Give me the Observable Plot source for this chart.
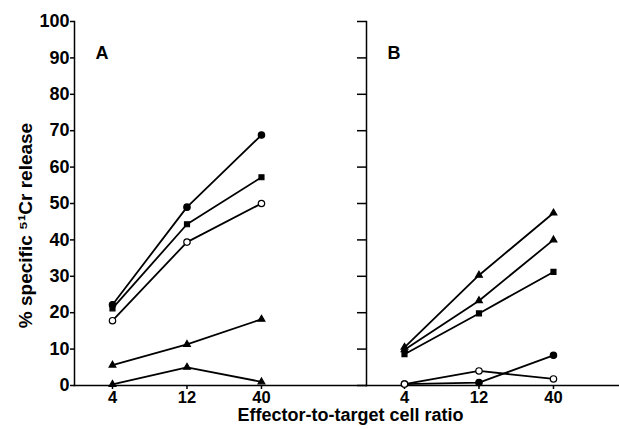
<!DOCTYPE html>
<html>
<head>
<meta charset="utf-8">
<script src="https://cdn.jsdelivr.net/npm/d3@7"></script>
<script src="https://cdn.jsdelivr.net/npm/@observablehq/plot@0.6"></script>
<style>
  html, body { margin: 0; padding: 0; background: #fff; overflow: hidden; }
  svg { font-family: "Liberation Sans", Arial, sans-serif; max-width: none !important; display: block; }
</style>
</head>
<body>
<div id="chart"></div>
<script>
// Effector-to-target ratios (categorical, equally spaced)
const ratios = [4, 12, 40];
const panels = ["A", "B"];
const yTicks = [0, 10, 20, 30, 40, 50, 60, 70, 80, 90, 100];
const yLabel = "% specific \u2075\u00B9Cr release";
const xLabel = "Effector-to-target cell ratio";

// Panel A series
const a1 = [22.2, 49.0, 68.8];  // filled circle
const a2 = [21.2, 44.3, 57.2];  // filled square
const a3 = [17.8, 39.4, 50.0];  // open circle
const a4 = [5.6, 11.3, 18.2];   // filled triangle
const a5 = [0.3, 5.0, 1.0];     // filled triangle
// Panel B series
const b1 = [10.5, 30.3, 47.4];  // filled triangle
const b2 = [9.8, 23.3, 40.0];   // filled triangle
const b3 = [8.6, 19.8, 31.2];   // filled square
const b4 = [0.4, 0.8, 8.3];     // filled circle
const b5 = [0.4, 4.0, 1.8];     // open circle

const seriesDefs = [
  {panel: "A", id: "a1", values: a1, shape: "circle", open: false},
  {panel: "A", id: "a2", values: a2, shape: "square", open: false},
  {panel: "A", id: "a3", values: a3, shape: "circle", open: true},
  {panel: "A", id: "a4", values: a4, shape: "triangle", open: false},
  {panel: "A", id: "a5", values: a5, shape: "triangle", open: false},
  {panel: "B", id: "b1", values: b1, shape: "triangle", open: false},
  {panel: "B", id: "b2", values: b2, shape: "triangle", open: false},
  {panel: "B", id: "b3", values: b3, shape: "square", open: false},
  {panel: "B", id: "b4", values: b4, shape: "circle", open: false},
  {panel: "B", id: "b5", values: b5, shape: "circle", open: true}
];

const rows = seriesDefs.flatMap(s => s.values.map((v, i) => ({
  panel: s.panel, series: s.id, idx: i, ratio: ratios[i], value: v,
  shape: s.shape, fillColor: s.open ? "white" : "black"
})));

const dotsOf = (shape, r) => Plot.dot(rows.filter(d => d.shape === shape), {
  x: "idx", y: "value", fx: "panel", symbol: "shape",
  fill: "fillColor", stroke: "black", strokeWidth: 1.2, r
});

const chart = Plot.plot({
  width: 658,
  height: 429,
  marginLeft: 74,
  marginRight: 0,
  marginTop: 21,
  marginBottom: 44,
  fx: {domain: panels, padding: 0, axis: null},
  x: {domain: [-0.51, 3.41], label: null},
  y: {domain: [0, 100], label: null},
  symbol: {domain: ["circle", "square", "triangle"], range: ["circle", "square", "triangle"]},
  style: {fontFamily: "Liberation Sans, Arial, sans-serif", color: "black", background: "white"},
  marks: [
    Plot.frame({anchor: "left", stroke: "black", strokeWidth: 1.5}),
    Plot.frame({anchor: "bottom", stroke: "black", strokeWidth: 1.5}),
    Plot.axisY({
      ticks: yTicks, tickSize: 4, tickPadding: 1, label: null,
      fontSize: 18, fontWeight: "bold", strokeWidth: 1.5
    }),
    Plot.axisY({
      ticks: yTicks, tickSize: 9, text: null, label: null,
      facetAnchor: "right", strokeWidth: 1.5
    }),
    Plot.axisX({
      ticks: [0, 1, 2], tickFormat: i => String(ratios[i]), tickSize: 4,
      tickPadding: 2, label: null, fontSize: 16.5, fontWeight: "bold", strokeWidth: 1.5
    }),
    Plot.line(rows, {
      x: "idx", y: "value", z: "series", fx: "panel",
      stroke: "black", strokeWidth: 1.8
    }),
    dotsOf("circle", 3.2),
    dotsOf("square", 2.8),
    dotsOf("triangle", 2.5),
    Plot.text(panels, {
      fx: d => d, text: d => d, frameAnchor: "top-left", dx: 21, dy: 25,
      textAnchor: "start", fontSize: 18, fontWeight: "bold"
    }),
    Plot.text([yLabel], {
      fx: ["A"], text: d => d, frameAnchor: "left", rotate: -90,
      dx: -49, dy: 22, textAnchor: "middle", fontSize: 19, fontWeight: "bold",
      letterSpacing: 0.8
    }),
    Plot.text([xLabel], {
      fx: ["A"], text: d => d, frameAnchor: "bottom-right", dx: -16, dy: 35,
      textAnchor: "middle", fontSize: 18, fontWeight: "bold", letterSpacing: 1.5
    })
  ]
});

document.getElementById("chart").appendChild(chart);
</script>
</body>
</html>
